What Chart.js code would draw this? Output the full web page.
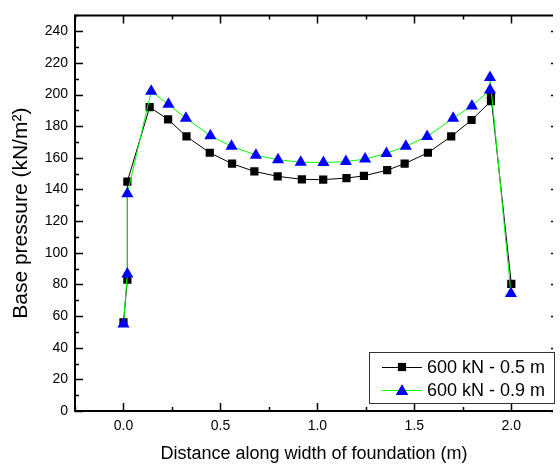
<!DOCTYPE html>
<html>
<head>
<meta charset="utf-8">
<script src="https://cdn.jsdelivr.net/npm/chart.js@4"></script>
<style>
  html, body { margin: 0; padding: 0; background: #fff; }
  #wrap { width: 560px; height: 468px; }
</style>
</head>
<body>
<div id="wrap"><canvas id="chart" width="560" height="468"></canvas></div>
<script>
const FONT = "'Liberation Sans', Arial, sans-serif";

// distance along width of foundation (m) and base pressure (kN/m²)
const xHalfMetre = [0, 0.02, 0.02, 0.135, 0.23, 0.325, 0.445, 0.56, 0.675, 0.795, 0.92,
  1.03, 1.15, 1.24, 1.36, 1.45, 1.57, 1.69, 1.795, 1.895, 1.895, 2.0];
const pressureHalfMetre = [56, 83, 145, 192, 184.3, 173.5, 163.2, 156.3, 151.4, 148.3, 146.4,
  146.2, 147.2, 148.6, 152.2, 156.3, 163.2, 173.5, 183.9, 195.8, 199.5, 80.3];

const xNineTenths = [0, 0.02, 0.02, 0.143, 0.232, 0.322, 0.448, 0.557, 0.683, 0.797, 0.914,
  1.031, 1.147, 1.246, 1.356, 1.456, 1.566, 1.70, 1.797, 1.89, 1.89, 1.998];
const pressureNineTenths = [55, 86.6, 137.3, 202, 193.8, 185, 174, 167.3, 161.7, 158.8, 157.2,
  157, 157.6, 159.2, 162.8, 167.3, 173.5, 185, 192.8, 202.9, 210.8, 74.2];

const seriesLabels = ['600 kN - 0.5 m', '600 kN - 0.9 m'];
const xTickValues = [0, 0.5, 1.0, 1.5, 2.0];
const yTickValues = [0, 20, 40, 60, 80, 100, 120, 140, 160, 180, 200, 220, 240];

const toPoints = (xs, ys) => xs.map((x, i) => ({ x: x, y: ys[i] }));

// inward ticks on all sides plus the frame (right edge falls outside the canvas)
const framePlugin = {
  id: 'frame',
  afterDraw(chart) {
    const { ctx, chartArea: a, scales: { x, y } } = chart;
    ctx.save();
    ctx.strokeStyle = '#000';
    ctx.lineWidth = 2;
    ctx.beginPath();
    ctx.moveTo(a.right, a.top);
    ctx.lineTo(a.left, a.top);
    ctx.lineTo(a.left, a.bottom);
    ctx.lineTo(a.right, a.bottom);
    ctx.stroke();

    ctx.lineWidth = 1.5;
    ctx.beginPath();
    for (let v = -0.25; v <= x.max + 1e-9; v += 0.25) {
      const px = Math.round(x.getPixelForValue(v)) + 0.5;
      const major = Math.abs(v * 2 - Math.round(v * 2)) < 1e-6;
      const len = major ? 8 : 4;
      ctx.moveTo(px, a.bottom);
      ctx.lineTo(px, a.bottom - len);
      ctx.moveTo(px, a.top);
      ctx.lineTo(px, a.top + len);
    }
    for (let v = 0; v <= y.max; v += 10) {
      const py = Math.round(y.getPixelForValue(v)) + 0.5;
      const major = v % 20 === 0;
      ctx.moveTo(a.left, py);
      ctx.lineTo(a.left + (major ? 8 : 4), py);
      if (major) {
        ctx.moveTo(a.right, py);
        ctx.lineTo(a.right - 2, py);
      }
    }
    ctx.stroke();

    // legend
    const box = { left: 369.5, top: 352.5, right: 554.5, bottom: 403.5 };
    ctx.fillStyle = '#fff';
    ctx.fillRect(box.left, box.top, box.right - box.left, box.bottom - box.top);
    ctx.strokeStyle = '#333';
    ctx.lineWidth = 1;
    ctx.strokeRect(box.left, box.top, box.right - box.left, box.bottom - box.top);
    const rows = [367, 390];
    chart.data.datasets.forEach((ds, i) => {
      const cy = rows[i];
      ctx.strokeStyle = ds.borderColor;
      ctx.lineWidth = 1;
      ctx.beginPath();
      ctx.moveTo(382, cy + 0.5);
      ctx.lineTo(422, cy + 0.5);
      ctx.stroke();
      Chart.helpers.drawPoint(ctx, {
        pointStyle: ds.pointStyle, radius: ds.pointRadius, borderWidth: 0, rotation: 0
      }, 402, cy + (ds.pointStyle === 'triangle' ? 1.5 : 0));
      ctx.fillStyle = ds.pointBackgroundColor;
      ctx.fill();
      ctx.fillStyle = '#000';
      ctx.font = '18px ' + FONT;
      ctx.textBaseline = 'middle';
      ctx.textAlign = 'left';
      ctx.fillText(ds.label, 427, cy + 1);
    });
    ctx.restore();
  }
};

new Chart(document.getElementById('chart'), {
  type: 'scatter',
  data: {
    datasets: [
      {
        label: seriesLabels[0],
        data: toPoints(xHalfMetre, pressureHalfMetre),
        showLine: true,
        borderColor: '#000000',
        borderWidth: 1,
        pointStyle: 'rect',
        pointRadius: 5.8,
        pointBorderWidth: 0,
        pointBackgroundColor: '#000000',
        order: 2
      },
      {
        label: seriesLabels[1],
        data: toPoints(xNineTenths, pressureNineTenths),
        showLine: true,
        borderColor: '#00ff00',
        borderWidth: 1,
        pointStyle: 'triangle',
        pointRadius: 7,
        pointBorderWidth: 0,
        pointBackgroundColor: '#0000ff',
        order: 1
      }
    ]
  },
  options: {
    responsive: false,
    animation: false,
    events: [],
    layout: { padding: { top: 8, right: 0, bottom: 0, left: 0 } },
    plugins: { legend: { display: false }, tooltip: { enabled: false } },
    scales: {
      x: {
        type: 'linear',
        min: -0.25,
        max: 2.215,
        grid: { display: false, drawTicks: false },
        border: { display: false },
        afterBuildTicks: (s) => { s.ticks = xTickValues.map(v => ({ value: v })); },
        afterFit: (s) => { s.height = 57; },
        ticks: {
          padding: 7,
          color: '#000',
          font: { family: FONT, size: 14 },
          maxRotation: 0,
          callback: (v) => Number(v).toFixed(1)
        },
        title: {
          display: true,
          text: 'Distance along width of foundation (m)',
          color: '#000',
          font: { family: FONT, size: 18, lineHeight: 1.2 },
          padding: { top: 0, bottom: 3 }
        }
      },
      y: {
        type: 'linear',
        min: 0,
        max: 250,
        grid: { display: false, drawTicks: false },
        border: { display: false },
        afterBuildTicks: (s) => { s.ticks = yTickValues.map(v => ({ value: v })); },
        afterFit: (s) => { s.width = 75; },
        ticks: {
          padding: 7,
          color: '#000',
          font: { family: FONT, size: 14 },
          callback: (v) => String(v)
        },
        title: {
          display: true,
          text: 'Base pressure (kN/m²)',
          color: '#000',
          font: { family: FONT, size: 21, lineHeight: 1.2 },
          padding: { top: 9, bottom: 0 }
        }
      }
    }
  },
  plugins: [framePlugin]
});
</script>
</body>
</html>
